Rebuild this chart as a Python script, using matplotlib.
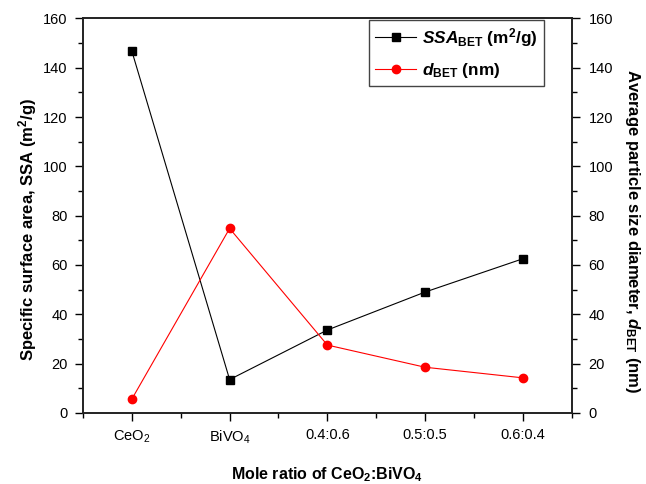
import matplotlib.pyplot as plt
import numpy as np
from matplotlib.ticker import MultipleLocator

plt.rcParams['font.family'] = ['Liberation Sans', 'DejaVu Sans']
plt.rcParams['mathtext.fontset'] = 'custom'
plt.rcParams['mathtext.rm'] = 'Liberation Sans:bold'
plt.rcParams['mathtext.bf'] = 'Liberation Sans:bold'
plt.rcParams['mathtext.it'] = 'Liberation Sans:italic:bold'
plt.rcParams['mathtext.sf'] = 'Liberation Sans'

# data
categories = ['CeO$_\\mathsf{2}$', 'BiVO$_\\mathsf{4}$', '0.4:0.6', '0.5:0.5', '0.6:0.4']
ssa = [146.7, 13.5, 33.6, 49.0, 62.5]
d_bet = [5.6, 74.8, 27.5, 18.5, 14.2]

x = np.arange(len(categories))

fig = plt.figure(figsize=(6.46, 4.84), dpi=100)
ax = fig.add_axes([0.1285, 0.147, 0.7565, 0.815])
ax2 = ax.twinx()

l1, = ax.plot(x, ssa, '-s', color='black', lw=0.8, ms=5.5, label=r'$SSA_{\mathrm{BET}}$ (m$^{\mathrm{2}}$/g)')
l2, = ax2.plot(x, d_bet, '-o', color='red', lw=0.8, ms=6, label=r'$d_{\mathrm{BET}}$ (nm)')

for a in (ax, ax2):
    a.set_ylim(0, 160)
    a.yaxis.set_major_locator(MultipleLocator(20))
    a.yaxis.set_minor_locator(MultipleLocator(10))
    for s in a.spines.values():
        s.set_linewidth(1.2)
        s.set_color('#222222')

ax.set_xlim(-0.5, 4.5)
ax.set_xticks(x)
ax.set_xticklabels(categories)
ax.xaxis.set_minor_locator(MultipleLocator(0.5))

ax.tick_params(axis='both', which='major', direction='out', length=6, width=1, labelsize=10.5, pad=5)
ax.tick_params(axis='both', which='minor', direction='out', length=3.5, width=1)
ax2.tick_params(axis='y', which='major', direction='out', length=6, width=1, labelsize=10.5, pad=6)
ax2.tick_params(axis='y', which='minor', direction='out', length=3.5, width=1)

ax.set_xlabel(r'Mole ratio of CeO$_{\mathrm{2}}$:BiVO$_{\mathrm{4}}$', fontsize=11.5, fontweight='bold', labelpad=14)
ax.set_ylabel(r'Specific surface area, SSA (m$^{\mathrm{2}}$/g)', fontsize=12, fontweight='bold', labelpad=3)
ax2.set_ylabel(r'Average particle size diameter, $d_{\mathrm{BET}}$ (nm)', fontsize=12,
               fontweight='bold', rotation=270, labelpad=21)
# labels sit a little below the axis centre in the original
ax.yaxis.label.set_y(0.465)
ax2.yaxis.label.set_y(0.46)

leg = ax.legend(handles=[l1, l2], loc='upper right', bbox_to_anchor=(0.943, 0.996),
                borderaxespad=0, fancybox=False, edgecolor='#444444', framealpha=1,
                prop={'weight': 'bold', 'size': 12.4}, handlelength=2.4, handletextpad=0.35,
                labelspacing=0.7, borderpad=0.35)
leg.get_frame().set_linewidth(1)

fig.savefig('out.png', dpi=100)
